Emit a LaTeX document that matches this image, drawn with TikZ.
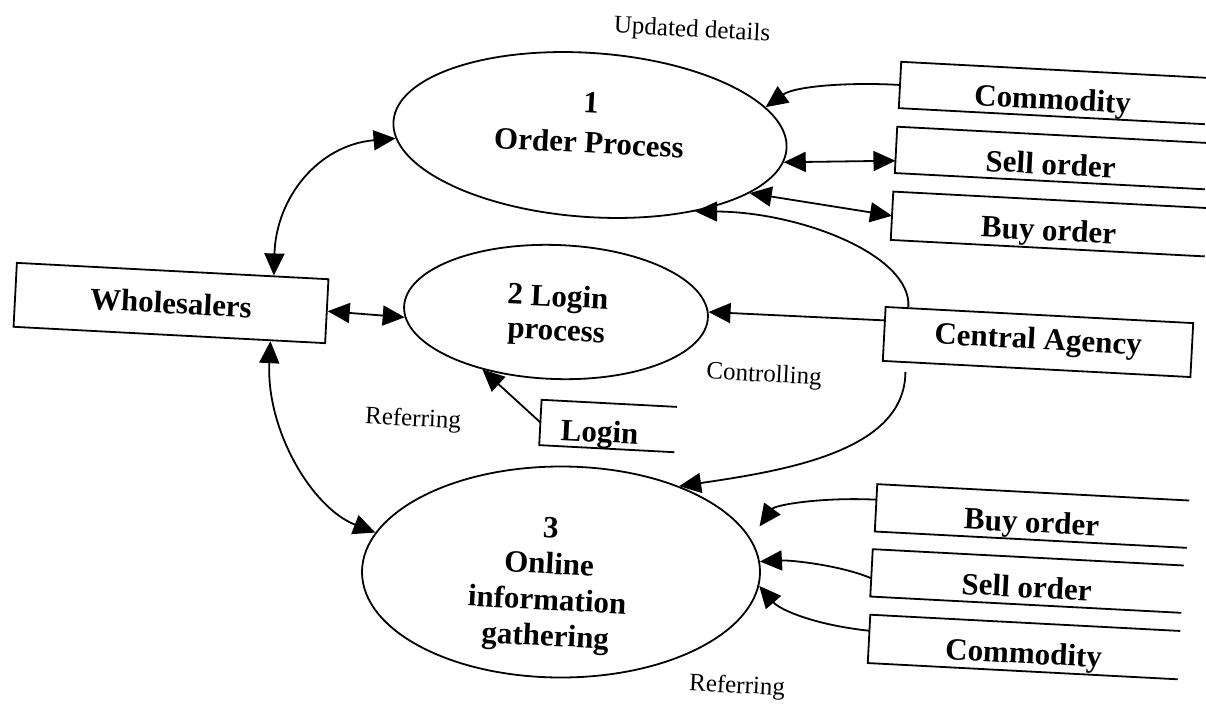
\documentclass[tikz,border=0pt]{standalone}
\usepackage{fontspec}
\setmainfont{Liberation Serif}
\usetikzlibrary{arrows.meta,shapes.geometric}

\newcommand{\boldlbl}{\fontsize{31}{38}\selectfont\bfseries}
\newcommand{\notelbl}{\fontsize{25}{30}\selectfont}

\begin{document}
\begin{tikzpicture}[x=1pt,y=-1pt,
  tilt/.style={rotate=-3},
  flow/.style={line width=1.8pt, -{Triangle[length=22pt,width=20pt]}},
  biflow/.style={line width=1.8pt, {Triangle[length=22pt,width=20pt]}-{Triangle[length=22pt,width=20pt]}},
  process/.style={ellipse, draw, line width=1.8pt, inner sep=0pt},
  ptext/.style={align=center, tilt, inner sep=0pt},
  entity/.style={draw, line width=1.8pt, tilt, inner sep=0pt, font=\boldlbl},
  store/.style={tilt, inner sep=0pt, text height=33pt, text depth=0pt,
                minimum height=46pt, font=\boldlbl},
  storeline/.style={line width=1.8pt},
  note/.style={tilt, font=\notelbl}
]
\useasboundingbox (0,0) rectangle (1206,704);

% processes
\node[process, rotate=-4, minimum width=394pt, minimum height=164pt] (e1) at (590,135) {};
\node[ptext, font=\fontsize{31}{40}\selectfont\bfseries] (t1) at (590,123) {1\\Order Process};

\node[process, rotate=-2, minimum width=304pt, minimum height=134pt] (e2) at (556,312) {};
\node[ptext, font=\fontsize{31}{34}\selectfont\bfseries] (t2) at (557,316) {2 Login\\process};

\node[process, minimum width=398pt, minimum height=211pt] (e3) at (561,572) {};
\node[ptext, font=\fontsize{31}{36}\selectfont\bfseries] (t3) at (548,585) {3\\Online\\information\\gathering};

% external entities
\node[entity, minimum width=312pt, minimum height=64pt] (W) at (171,303) {Wholesalers};
\node[entity, minimum width=308pt, minimum height=54pt] (C) at (1038,342) {Central Agency};

% data stores (open on the right)
\node[store, minimum width=306pt] (CT) at (1053,93) {Commodity};
\node[store, minimum width=310pt] (ST) at (1051,158) {Sell order};
\node[store, minimum width=314pt, minimum height=48pt] (BT) at (1049,224) {Buy order};
\node[store, minimum width=135pt, minimum height=45pt] (L) at (608,426) {Login\kern16pt};
\node[store, minimum width=312pt, minimum height=47pt] (BB) at (1032,516) {Buy order};
\node[store, minimum width=311pt, minimum height=47pt] (SB) at (1027,581) {Sell order};
\node[store, minimum width=310pt, minimum height=48pt] (CB) at (1024,647) {Commodity};

\foreach \s in {CT,ST,BT,L,BB,SB,CB}
  \draw[storeline] (\s.north east) -- (\s.north west) -- (\s.south west) -- (\s.south east);

% data flows
\draw[biflow] (W.18) .. controls (276,198) and (318,145) .. (e1.185);
\draw[biflow] (W.east) -- (e2.184);
\draw[biflow] (W.-18) .. controls (266,430) and (312,508) .. (e3.168);

\draw[flow] (CT.west) .. controls (850,82) and (795,86) .. (e1.13);
\draw[biflow] (e1.-4) -- (ST.184);
\draw[biflow] (e1.-16) -- (BT.west);

\draw[flow] (C.168) .. controls (912,255) and (800,212) .. (e1.-32);
\draw[flow] (C.175) -- (e2.2);
\draw[flow, shorten <=9pt] (C.192) .. controls (905,450) and (790,470) .. (e3.36);

\draw[flow] (L.west) -- (e2.220);

\draw[flow, shorten >=15pt] (BB.177) .. controls (820,497) and (775,505) .. (e3.10);
\draw[flow] (SB.182) .. controls (840,565) and (790,560) .. (e3.3);
\draw[flow] (CB.177) .. controls (815,625) and (780,610) .. (e3.-4);

% flow labels
\node[note] (ud) at (692,31) {Updated details};
\node[note] (ctl) at (764,376) {Controlling};
\node[note] (ref1) at (413,420) {Referring};
\node[note] (ref2) at (737,687) {Referring};
\end{tikzpicture}
\end{document}
